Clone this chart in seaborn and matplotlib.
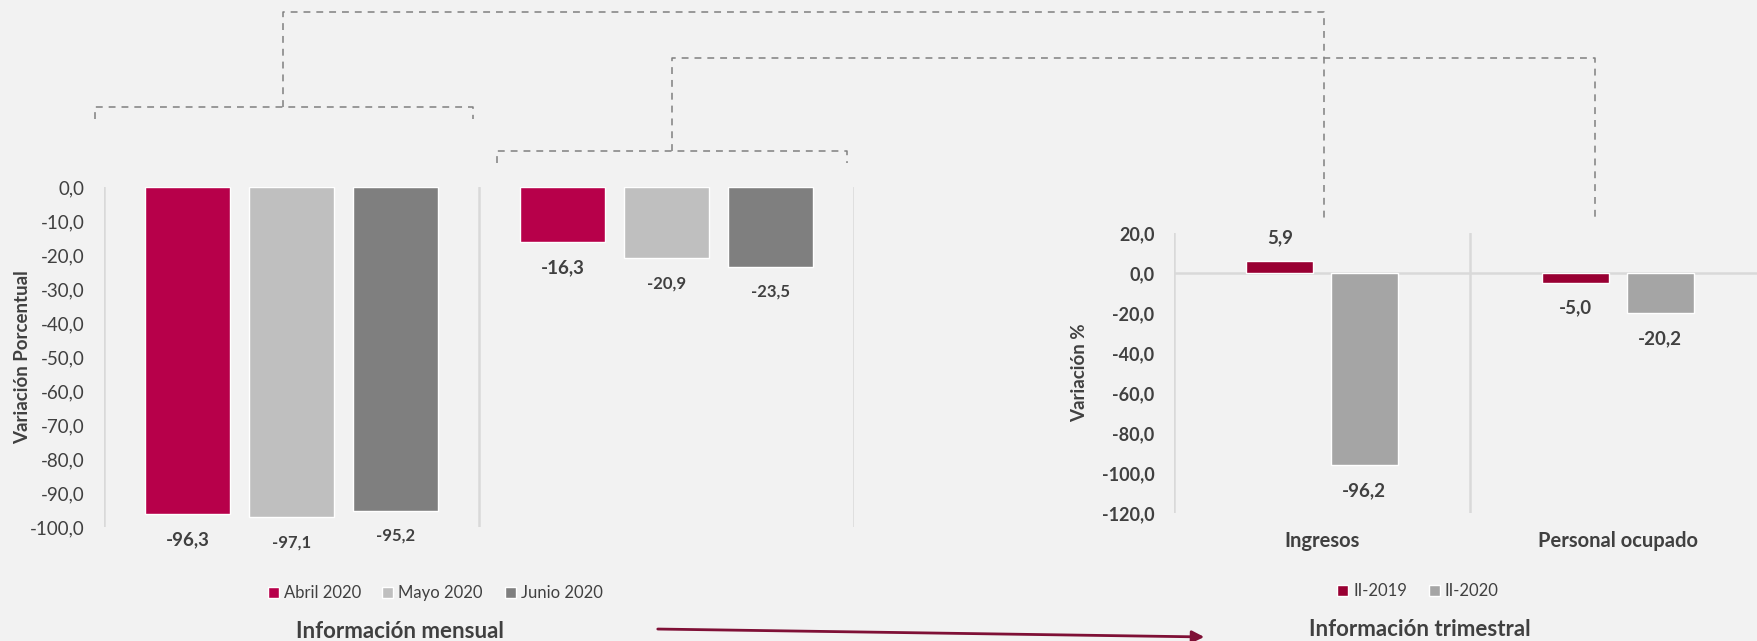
import numpy as np
import pandas as pd
import matplotlib.pyplot as plt
import seaborn as sns
from matplotlib.patches import Patch, FancyArrowPatch
from matplotlib.lines import Line2D
from matplotlib.ticker import FuncFormatter, MultipleLocator

# Información mensual (variación porcentual)
categorias = ['Ingresos', 'Personal ocupado']
meses = ['Abril 2020', 'Mayo 2020', 'Junio 2020']
ingresos_mes = [-96.3, -97.1, -95.2]
personal_mes = [-16.3, -20.9, -23.5]

# Información trimestral (variación %)
trimestres = ['II-2019', 'II-2020']
ingresos_trim = [5.9, -96.2]
personal_trim = [-5.0, -20.2]

colores_mes = ['#B7004A', '#BFBFBF', '#7F7F7F']
colores_trim = ['#990033', '#A5A5A5']

BG = '#F2F2F2'
TXT = '#404040'
GRID = '#D9D9D9'
W, H = 1758, 641


def px(x, y):
    # figure pixel (from top-left) -> figure fraction
    return x / W, 1 - y / H


def coma(v, pos=None):
    return f'{v:.1f}'.replace('.', ',')


sns.set_theme(style='white')
plt.rcParams['font.family'] = ['Lato', 'DejaVu Sans']
plt.rcParams['text.color'] = TXT
plt.rcParams['axes.labelcolor'] = TXT
plt.rcParams['xtick.color'] = TXT
plt.rcParams['ytick.color'] = TXT

df_mes = pd.DataFrame({
    'categoria': np.repeat(categorias, len(meses)),
    'serie': meses * len(categorias),
    'valor': ingresos_mes + personal_mes,
})
df_trim = pd.DataFrame({
    'categoria': np.repeat(categorias, len(trimestres)),
    'serie': trimestres * len(categorias),
    'valor': ingresos_trim + personal_trim,
})

fig = plt.figure(figsize=(W / 100, H / 100), dpi=100, facecolor=BG)

# Left chart: monthly
x0, y0 = px(104, 527)
ax1 = fig.add_axes([x0, y0, 750 / W, 340 / H], facecolor=BG)
sns.barplot(data=df_mes, x='categoria', y='valor', hue='serie', hue_order=meses,
            palette=colores_mes, width=0.832, gap=0.19, saturation=1,
            legend=False, ax=ax1)
ax1.set_xlim(-0.5, 1.5)
ax1.set_ylim(-100, 0)
ax1.yaxis.set_major_locator(MultipleLocator(10))
ax1.yaxis.set_major_formatter(FuncFormatter(coma))
ax1.tick_params(axis='y', length=0, pad=14, labelsize=13.5)
ax1.set_xticks([])
ax1.set_xlabel('')
ax1.set_ylabel('Variación Porcentual', fontsize=13.5, fontweight='bold', va='center')
ax1.yaxis.set_label_coords(-0.109, 0.5)
for s in ax1.spines.values():
    s.set_visible(False)
for xv in [-0.5, 0.5, 1.5]:
    ax1.axvline(xv, color=GRID, lw=1.8, zorder=0)

# Right chart: quarterly
x0, y0 = px(1174, 513)
ax2 = fig.add_axes([x0, y0, 592 / W, 280 / H], facecolor=BG)
sns.barplot(data=df_trim, x='categoria', y='valor', hue='serie', hue_order=trimestres,
            palette=colores_trim, width=0.571, gap=0.213, saturation=1,
            legend=False, ax=ax2)
ax2.set_xlim(-0.5, 1.5)
ax2.set_ylim(-120, 20)
ax2.yaxis.set_major_locator(MultipleLocator(20))
ax2.yaxis.set_major_formatter(FuncFormatter(coma))
ax2.tick_params(axis='y', length=0, pad=14, labelsize=13)
ax2.tick_params(axis='x', length=0, pad=13, labelsize=14.5)
for lbl in ax2.get_yticklabels() + ax2.get_xticklabels():
    lbl.set_fontweight('bold')
ax2.set_xlabel('')
ax2.set_ylabel('Variación %', fontsize=13.5, fontweight='bold', va='center')
ax2.yaxis.set_label_coords(-0.159, 0.5)
for s in ax2.spines.values():
    s.set_visible(False)
for xv in [-0.5, 0.5]:
    ax2.axvline(xv, color=GRID, lw=1.8, zorder=0)
ax2.axhline(0, color=GRID, lw=1.8, zorder=0.5)


def etiquetar(ax, tamanos):
    for cont, size in zip(ax.containers, tamanos):
        for bar in cont:
            h = bar.get_y() + bar.get_height()
            x = bar.get_x() + bar.get_width() / 2
            off = 17 if h > 0 else -18
            ax.annotate(coma(h), (x, h), xytext=(0, off), textcoords='offset points',
                        ha='center', va='center', fontsize=size,
                        fontweight='bold', color=TXT)


etiquetar(ax1, [13.5, 12, 12])
etiquetar(ax2, [13.5, 13.5])

# Legends
h_mes = [Patch(facecolor=c, label=m) for c, m in zip(colores_mes, meses)]
fig.legend(handles=h_mes, loc='center', bbox_to_anchor=px(435, 593), ncol=3,
           frameon=False, fontsize=12, handlelength=0.66, handleheight=0.66,
           handletextpad=0.3, columnspacing=1.3, labelcolor=TXT)
h_trim = [Patch(facecolor=c, label=t) for c, t in zip(colores_trim, trimestres)]
fig.legend(handles=h_trim, loc='center', bbox_to_anchor=px(1418, 591), ncol=2,
           frameon=False, fontsize=12, handlelength=0.66, handleheight=0.66,
           handletextpad=0.3, columnspacing=1.3, labelcolor=TXT)

# Titles
fig.text(*px(400, 631), 'Información mensual', ha='center', va='center',
         fontsize=16, fontweight='bold', color=TXT)
fig.text(*px(1420, 630), 'Información trimestral', ha='center', va='center',
         fontsize=16, fontweight='bold', color=TXT)

# Arrow between sections
fig.add_artist(FancyArrowPatch(px(655, 629), px(1207, 637), transform=fig.transFigure,
                               arrowstyle='-|>', mutation_scale=18,
                               color='#7F1036', lw=2))

# Dashed connectors
conectores = [
    [(95, 119), (95, 107), (473, 107), (473, 119)],
    [(283, 107), (283, 12), (1324, 12), (1324, 219)],
    [(497, 163), (497, 151), (847, 151), (847, 163)],
    [(672, 151), (672, 58), (1595, 58), (1595, 220)],
]
for pts in conectores:
    xs, ys = zip(*[px(x, y) for x, y in pts])
    fig.add_artist(Line2D(xs, ys, transform=fig.transFigure, color='#808080',
                          lw=1.1, linestyle=(0, (4.5, 3.9))))

fig.savefig('out.png', dpi=100, facecolor=fig.get_facecolor())
